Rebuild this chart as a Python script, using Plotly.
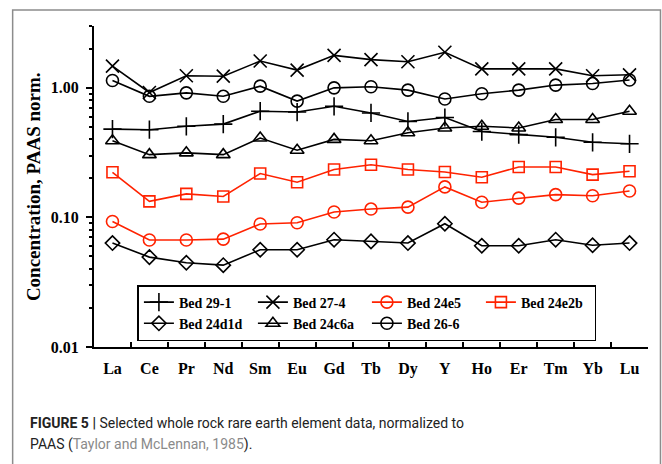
import plotly.graph_objects as go

elements = ["La", "Ce", "Pr", "Nd", "Sm", "Eu", "Gd", "Tb", "Dy", "Y", "Ho", "Er", "Tm", "Yb", "Lu"]

bed_29_1 = [0.48, 0.475, 0.505, 0.525, 0.66, 0.65, 0.72, 0.64, 0.55, 0.59, 0.46, 0.435, 0.415, 0.38, 0.37]
bed_27_4 = [1.47, 0.92, 1.24, 1.23, 1.61, 1.37, 1.78, 1.65, 1.59, 1.88, 1.40, 1.40, 1.40, 1.24, 1.26]
bed_24e5 = [0.093, 0.067, 0.067, 0.068, 0.089, 0.091, 0.110, 0.116, 0.120, 0.172, 0.131, 0.141, 0.150, 0.147, 0.160]
bed_24e2b = [0.223, 0.133, 0.152, 0.145, 0.218, 0.187, 0.234, 0.255, 0.234, 0.224, 0.204, 0.245, 0.245, 0.214, 0.227]
bed_24d1d = [0.0634, 0.0494, 0.0447, 0.0428, 0.0563, 0.0563, 0.0673, 0.0653, 0.0634, 0.0893, 0.0604, 0.0604, 0.0673, 0.061, 0.0634]
bed_24c6a = [0.39, 0.305, 0.315, 0.305, 0.41, 0.33, 0.40, 0.39, 0.45, 0.49, 0.505, 0.49, 0.57, 0.57, 0.66]
bed_26_6 = [1.14, 0.86, 0.915, 0.86, 1.03, 0.79, 1.00, 1.02, 0.96, 0.82, 0.90, 0.96, 1.05, 1.08, 1.15]

series_names = ["Bed 29-1", "Bed 27-4", "Bed 24e5", "Bed 24e2b", "Bed 24d1d", "Bed 24c6a", "Bed 26-6"]
series_values = [bed_29_1, bed_27_4, bed_24e5, bed_24e2b, bed_24d1d, bed_24c6a, bed_26_6]
series_symbols = ["cross-thin-open", "x-thin-open", "circle-open", "square-open",
                  "diamond-open", "triangle-up-open", "circle-open"]
series_colors = ["#000000", "#000000", "#ff2200", "#ff2200", "#000000", "#000000", "#000000"]
series_sizes = [13, 13, 12, 11, 11, 12, 12]

y_tickvals = [0.01, 0.1, 1.0]
y_ticktext = ["0.01", "0.10", "1.00"]
y_minor = [m * 10 ** e for e in (-2, -1, 0) for m in range(2, 10) if m * 10 ** e <= 3.0001]

caption_line1 = "<b>FIGURE 5 |</b> Selected whole rock rare earth element data, normalized to"
caption_line2 = "PAAS (<span style='color:#8a8a8a'>Taylor and McLennan, 1985</span>)."

W, H = 662, 464
L, R, T, B = 93.5, 13.5, 26, 117
pw = W - L - R
ph = H - T - B


def px_x(x):
    return (x - L) / pw


def px_y(y):
    return (H - B - y) / ph


fig = go.Figure()
for name, vals, sym, col, sz in zip(series_names, series_values, series_symbols, series_colors, series_sizes):
    fig.add_trace(go.Scatter(
        x=elements, y=vals, name=name, mode="lines+markers",
        line=dict(color=col, width=1.6),
        marker=dict(symbol=sym, size=sz, color=col, line=dict(color=col, width=1.6)),
    ))

serif = "Liberation Serif, Times New Roman, serif"
sans = "Roboto, Liberation Sans, Arial, sans-serif"

fig.update_layout(
    width=W, height=H,
    margin=dict(l=L, r=R, t=T, b=B),
    paper_bgcolor="white", plot_bgcolor="white",
    font=dict(family=serif, color="black"),
    showlegend=True,
    legend=dict(
        orientation="h", x=px_x(137), y=px_y(285), xanchor="left", yanchor="top",
        bgcolor="white", bordercolor="black", borderwidth=1.5,
        font=dict(family=serif, size=14, color="black", weight="bold"),
        entrywidth=69, tracegroupgap=0, itemwidth=30,
    ),
    xaxis=dict(
        type="category", range=[-0.5, 14.5], showline=True, linecolor="black", linewidth=2,
        ticks="inside", tickson="boundaries", ticklen=5, tickwidth=2, tickcolor="black",
        showgrid=False, zeroline=False, ticklabelstandoff=6,
        tickfont=dict(family=serif, size=16, color="black", weight="bold"),
    ),
    yaxis=dict(
        type="log", range=[-2, 0.4771], showline=True, linecolor="black", linewidth=2,
        ticks="outside", ticklen=6, tickwidth=2, tickcolor="black",
        tickmode="array", tickvals=y_tickvals, ticktext=y_ticktext,
        showgrid=False, zeroline=False, ticklabelstandoff=4,
        tickfont=dict(family=serif, size=16, color="black", weight="bold"),
        minor=dict(tickmode="array", tickvals=y_minor, ticks="outside", ticklen=3,
                   tickwidth=1.5, tickcolor="black", showgrid=False),
    ),
    annotations=[
        dict(text="<b>Concentration, PAAS norm.</b>", xref="paper", yref="paper",
             x=px_x(33), y=px_y(186.5), textangle=-90, showarrow=False,
             font=dict(family=serif, size=19, color="black"), xanchor="center", yanchor="middle"),
        dict(text=caption_line1, xref="paper", yref="paper", x=px_x(27), y=px_y(423),
             xanchor="left", yanchor="middle", align="left", showarrow=False,
             font=dict(family=sans, size=14, color="#222222")),
        dict(text=caption_line2, xref="paper", yref="paper", x=px_x(27), y=px_y(444),
             xanchor="left", yanchor="middle", align="left", showarrow=False,
             font=dict(family=sans, size=14, color="#222222")),
    ],
    shapes=[
        dict(type="rect", xref="paper", yref="paper", x0=px_x(12), x1=px_x(661),
             y0=px_y(480), y1=px_y(10), line=dict(color="#8c8c8c", width=1.5), layer="below"),
    ],
)

fig.write_html("out.html")
